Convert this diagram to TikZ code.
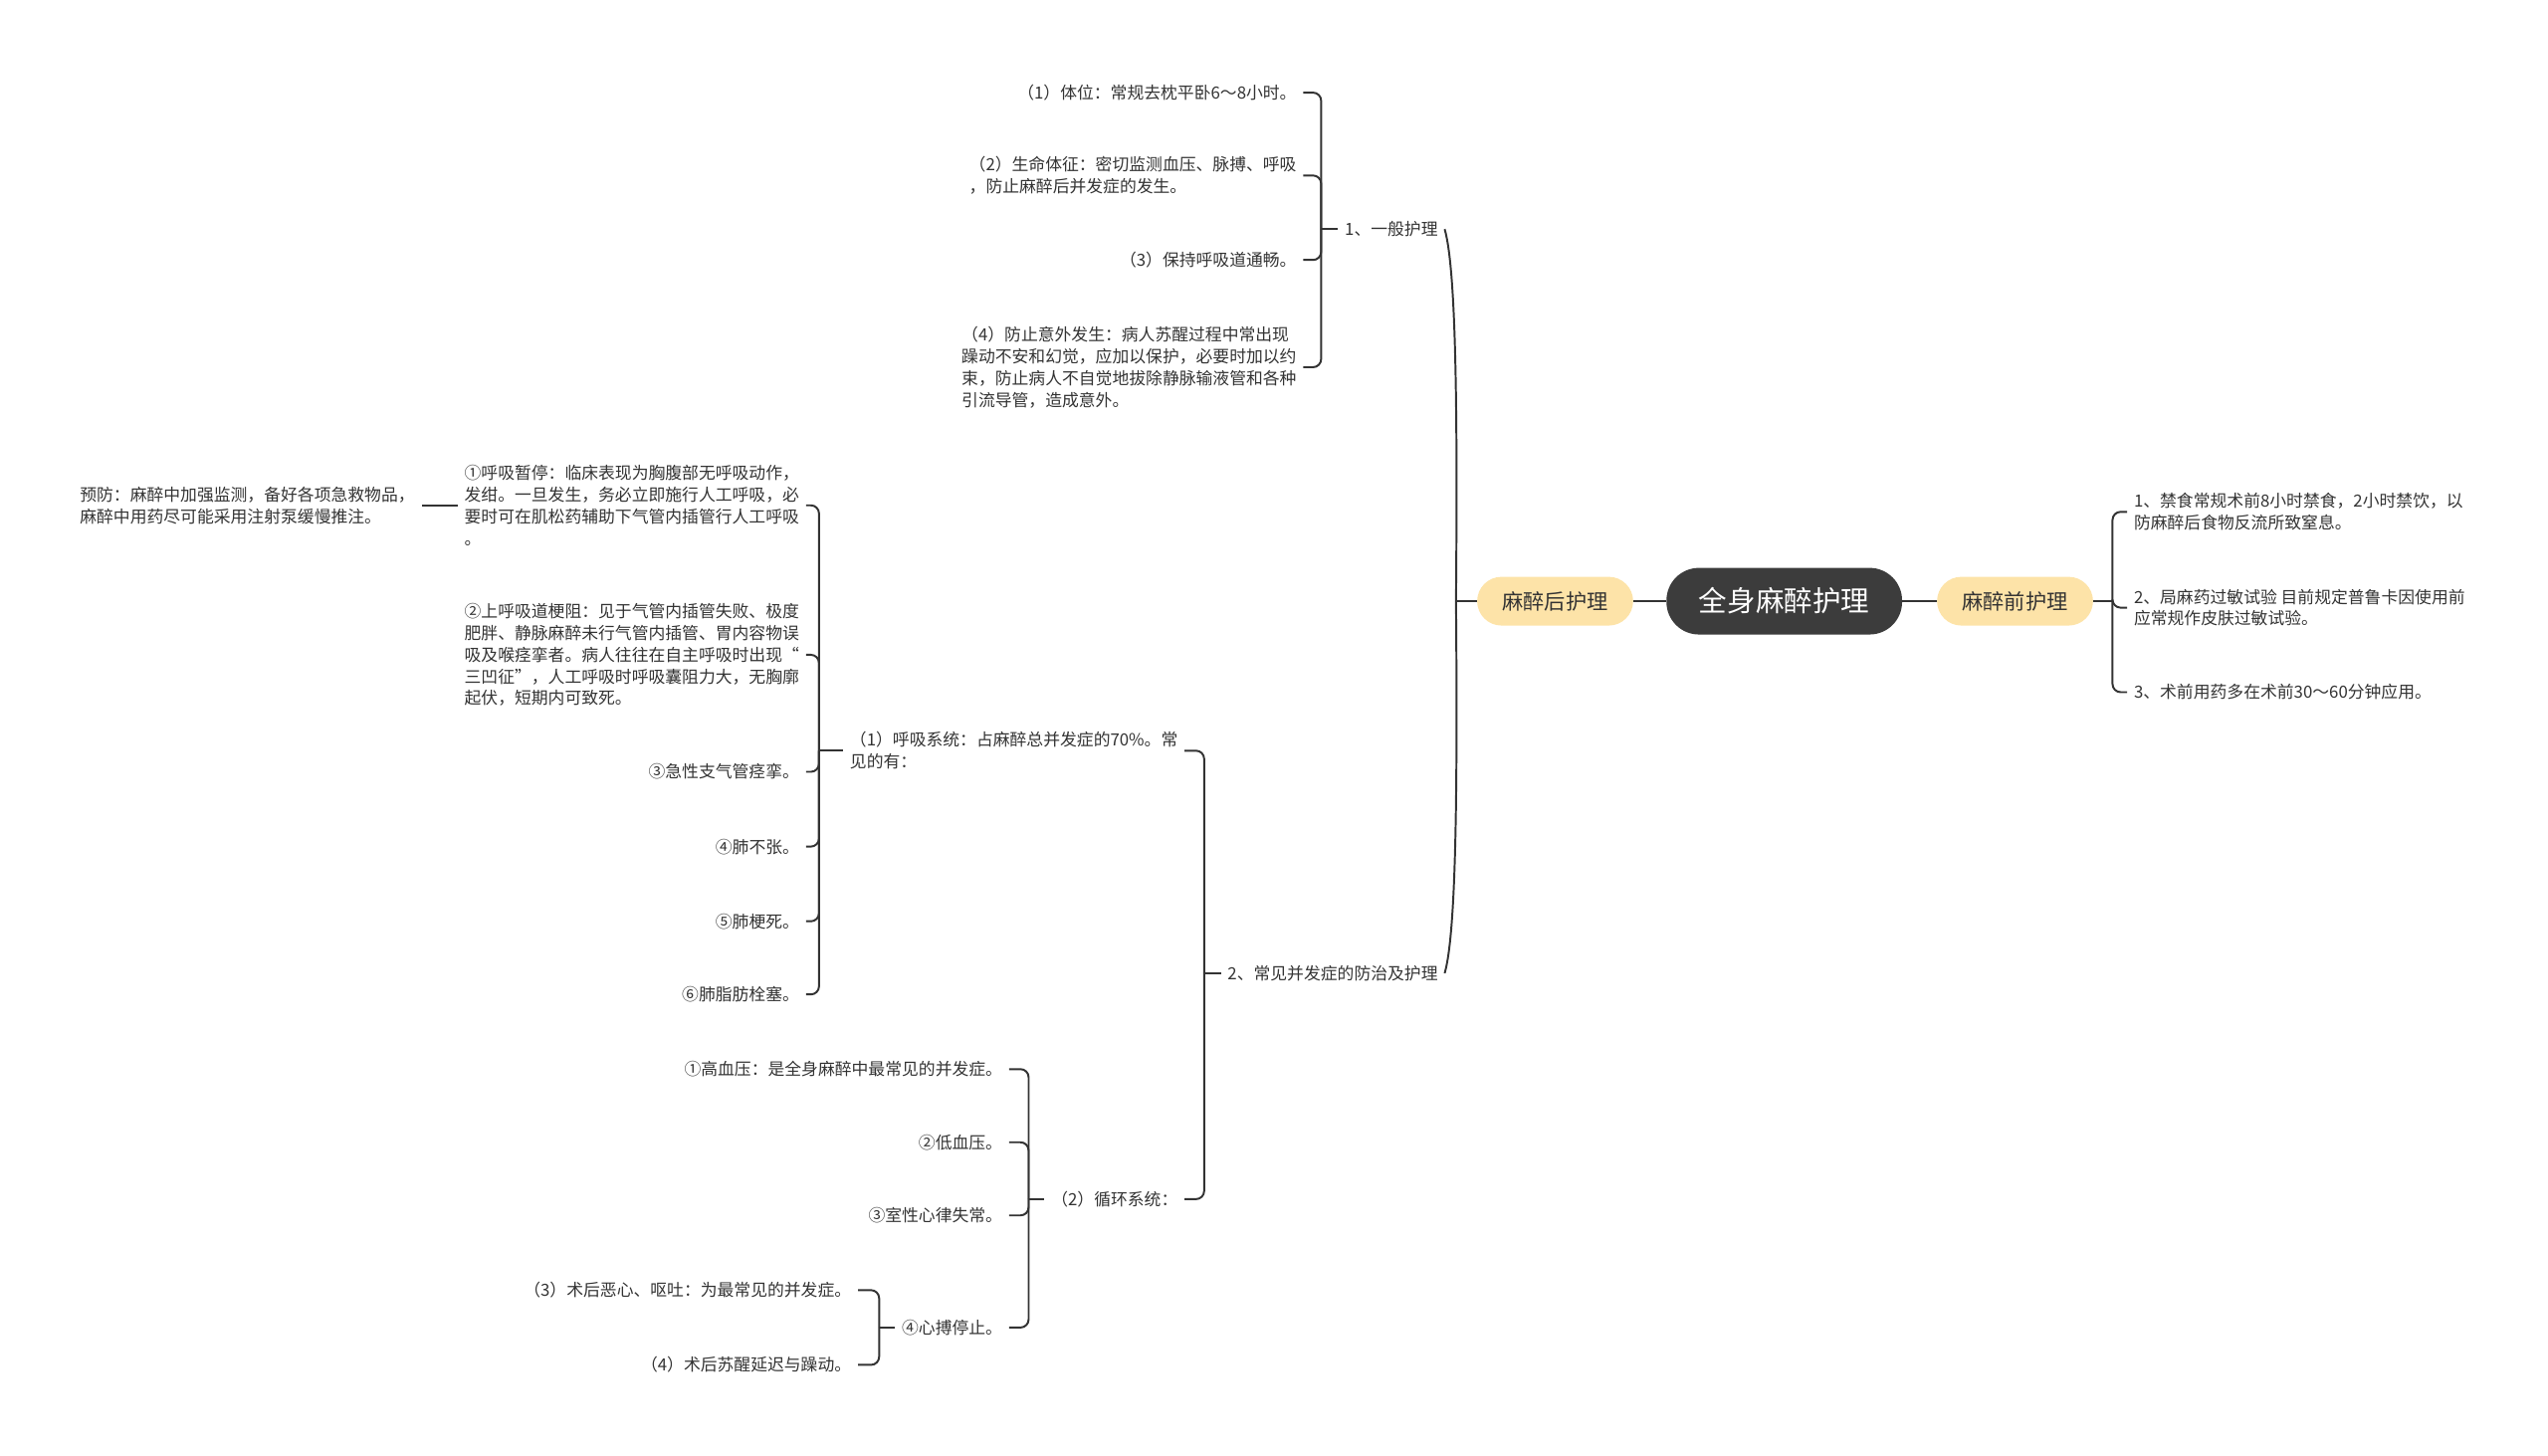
\documentclass[tikz,border=0pt]{standalone}
\usepackage{fontspec}
\setmainfont{Noto Sans CJK SC}
\definecolor{inkc}{HTML}{333333}
\definecolor{rootc}{HTML}{3C3C3C}
\definecolor{pillc}{HTML}{FDE3A8}
\tikzset{
  link/.style={draw=inkc, line width=1.2pt, rounded corners=5pt},
  rootnode/.style={fill=rootc, text=white, rounded corners=20pt,
    minimum width=145pt, minimum height=41pt, font=\fontsize{17.5}{20}\selectfont},
  pill/.style={fill=pillc, text=inkc, rounded corners=15pt,
    minimum width=96pt, minimum height=30pt, font=\fontsize{13}{15}\selectfont},
  leaf/.style={text=inkc, align=left, inner xsep=4pt, inner ysep=2pt,
    font=\fontsize{10.3}{13.4}\selectfont},
}
\begin{document}
\begin{tikzpicture}[x=1pt,y=-1pt]
  \useasboundingbox (0,0) rectangle (1568,896);
  % centre and the two main branches
  \node[rootnode] (root) at (1098,370) {全身麻醉护理};
  \node[pill] (post) at (957,370) {麻醉后护理};
  \node[pill] (pre) at (1240,370) {麻醉前护理};
  \draw[link] (root) -- (post);
  \draw[link] (root) -- (pre);
  % right branch, before anaesthesia
  \coordinate (b-pre) at (1300,370);
  \node[leaf, anchor=west] (p1) at (1309,315) {1、禁食常规术前8小时禁食，2小时禁饮，以\\防麻醉后食物反流所致窒息。};
  \node[leaf, anchor=west] (p2) at (1309,374) {2、局麻药过敏试验 目前规定普鲁卡因使用前\\应常规作皮肤过敏试验。};
  \node[leaf, anchor=west] (p3) at (1309,426) {3、术前用药多在术前30～60分钟应用。};
  \draw[link] (pre) -- (b-pre);
  \foreach \c in {p1,p2,p3} \draw[link] (\c.west) -| (b-pre);
  % left branch, after anaesthesia
  \coordinate (b-post) at (896,370);
  \node[leaf, anchor=east] (gen) at (889,141) {1、一般护理};
  \node[leaf, anchor=east] (comp) at (889,599) {2、常见并发症的防治及护理};
  \draw[link] (post) -- (b-post);
  \draw[link] (b-post) .. controls (897,250) and (896,165) .. (gen.east);
  \draw[link] (b-post) .. controls (897,490) and (896,575) .. (comp.east);
  % general care
  \coordinate (b-gen) at (813,141);
  \node[leaf, anchor=east] (g1) at (802,57) {（1）体位：常规去枕平卧6～8小时。};
  \node[leaf, anchor=east] (g2) at (802,108) {（2）生命体征：密切监测血压、脉搏、呼吸\\，防止麻醉后并发症的发生。};
  \node[leaf, anchor=east] (g3) at (802,160) {（3）保持呼吸道通畅。};
  \node[leaf, anchor=east] (g4) at (802,226) {（4）防止意外发生：病人苏醒过程中常出现\\躁动不安和幻觉，应加以保护，必要时加以约\\束，防止病人不自觉地拔除静脉输液管和各种\\引流导管，造成意外。};
  \draw[link] (b-gen) -- (gen.west);
  \foreach \c in {g1,g2,g3,g4} \draw[link] (\c.east) -| (b-gen);
  % complications
  \coordinate (b-comp) at (741,599);
  \node[leaf, anchor=east] (r1) at (729,462) {（1）呼吸系统：占麻醉总并发症的70\%。常\\见的有：};
  \node[leaf, anchor=east] (c2) at (729,738) {（2）循环系统：};
  \draw[link] (b-comp) -- (comp.west);
  \foreach \c in {r1,c2} \draw[link] (\c.east) -| (b-comp);
  % respiratory system
  \coordinate (b-r1) at (504,462);
  \node[leaf, anchor=east] (a1) at (496,311) {①呼吸暂停：临床表现为胸腹部无呼吸动作，\\发绀。一旦发生，务必立即施行人工呼吸，必\\要时可在肌松药辅助下气管内插管行人工呼吸\\。};
  \node[leaf, anchor=east] (a2) at (496,403) {②上呼吸道梗阻：见于气管内插管失败、极度\\肥胖、静脉麻醉未行气管内插管、胃内容物误\\吸及喉痉挛者。病人往往在自主呼吸时出现“\\三凹征”，人工呼吸时呼吸囊阻力大，无胸廓\\起伏，短期内可致死。};
  \node[leaf, anchor=east] (a3) at (496,475) {③急性支气管痉挛。};
  \node[leaf, anchor=east] (a4) at (496,521) {④肺不张。};
  \node[leaf, anchor=east] (a5) at (496,567) {⑤肺梗死。};
  \node[leaf, anchor=east] (a6) at (496,612) {⑥肺脂肪栓塞。};
  \draw[link] (b-r1) -- (r1.west);
  \foreach \c in {a1,a2,a3,a4,a5,a6} \draw[link] (\c.east) -| (b-r1);
  % prevention note
  \node[leaf, anchor=west] (pv) at (45,311) {预防：麻醉中加强监测，备好各项急救物品，\\麻醉中用药尽可能采用注射泵缓慢推注。};
  \draw[link] (a1.west) -- (pv.east);
  % circulatory system
  \coordinate (b-c2) at (633,738);
  \node[leaf, anchor=east] (h1) at (621,658) {①高血压：是全身麻醉中最常见的并发症。};
  \node[leaf, anchor=east] (h2) at (621,703) {②低血压。};
  \node[leaf, anchor=east] (h3) at (621,748) {③室性心律失常。};
  \node[leaf, anchor=east] (h4) at (621,817) {④心搏停止。};
  \draw[link] (b-c2) -- (c2.west);
  \foreach \c in {h1,h2,h3,h4} \draw[link] (\c.east) -| (b-c2);
  % cardiac arrest
  \coordinate (b-h4) at (541,817);
  \node[leaf, anchor=east] (k3) at (528,794) {（3）术后恶心、呕吐：为最常见的并发症。};
  \node[leaf, anchor=east] (k4) at (528,840) {（4）术后苏醒延迟与躁动。};
  \draw[link] (b-h4) -- (h4.west);
  \foreach \c in {k3,k4} \draw[link] (\c.east) -| (b-h4);
\end{tikzpicture}
\end{document}
